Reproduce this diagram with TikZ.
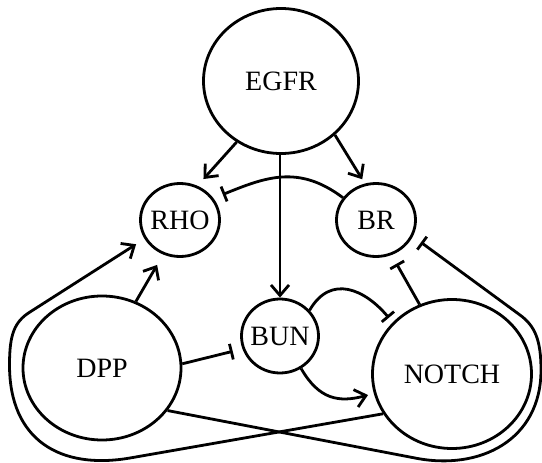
\documentclass[tikz,border=0pt]{standalone}
\usepackage{fontspec}
\setmainfont{Liberation Serif}
\usetikzlibrary{arrows.meta,shapes.geometric}
\begin{document}
\begin{tikzpicture}[x=1pt,y=-1pt,
  gene/.style={ellipse,draw,line width=2.8pt,inner sep=0pt,font=\fontsize{28}{30}\selectfont},
  edge/.style={line width=2.8pt},
  act/.style={edge,-{Straight Barb[length=10.5pt,width=18pt]}},
  inh/.style={edge,-{Bar[width=16pt]}}]
\useasboundingbox (0,0) rectangle (542,463);
% nodes
\node[gene,minimum width=155pt,minimum height=145pt] (EGFR) at (281,81) {\makebox[0pt]{EGFR}};
\node[gene,minimum width=79pt,minimum height=73pt] (RHO) at (180,220) {\makebox[0pt]{RHO}};
\node[gene,minimum width=79pt,minimum height=73pt] (BR) at (376,220) {\makebox[0pt]{BR}};
\node[gene,minimum width=77pt,minimum height=74pt] (BUN) at (280,336) {\makebox[0pt]{BUN}};
\node[gene,minimum width=158pt,minimum height=144pt] (DPP) at (102,368) {\makebox[0pt]{DPP}};
\node[gene,minimum width=159pt,minimum height=149pt] (NOTCH) at (452,374) {\makebox[0pt]{NOTCH}};
% waypoints of the long loops
\coordinate (b1) at (415,458);
\coordinate (b2) at (541,370);
\coordinate (b3) at (520,315);
\coordinate (a1) at (130,458);
\coordinate (a2) at (9.5,365);
\coordinate (a3) at (30,312);
% edges
\draw[act,shorten >=9pt] (EGFR.234) -- (RHO.63);
\draw[act,shorten >=5pt] (EGFR.315) -- (BR.107);
\draw[act] (EGFR.south -| BUN.north) -- (BUN.north);
\draw[inh,shorten >=10pt] (BR.146) to[out=143,in=22,looseness=1.1] (RHO.33);
\draw[act,shorten >=12pt] (DPP.63) -- (RHO.244);
\draw[inh,shorten >=10pt] (DPP.3.5) -- (BUN.199);
\draw[inh,shorten >=6pt] (BUN.41) to[out=60,in=130,looseness=1.3] (NOTCH.139);
\draw[act,shorten >=6pt] (BUN.303) to[out=-60,in=195,looseness=1.2] (NOTCH.194);
\draw[inh,shorten >=10pt] (NOTCH.115) -- (BR.294);
\draw[inh,shorten >=10pt] (DPP.327) -- (b1) .. controls (480,471) and (541,440) .. (b2)
  .. controls (541,340) and (535,326) .. (b3) -- (BR.336);
\draw[act,shorten >=10pt] (NOTCH.210) -- (a1) .. controls (60,470) and (9.5,440) .. (a2)
  .. controls (9.5,335) and (14,322) .. (a3) -- (RHO.208);
\end{tikzpicture}
\end{document}
